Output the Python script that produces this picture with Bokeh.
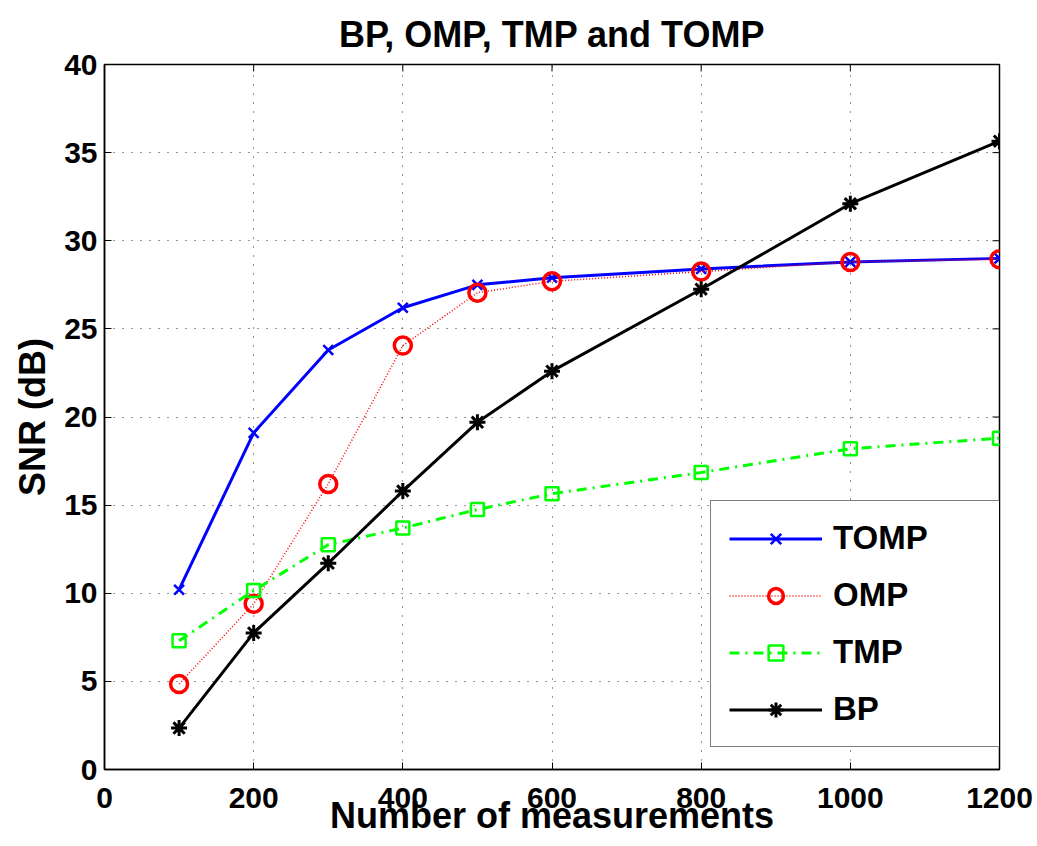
import math
from bokeh.plotting import figure
from bokeh.models import FixedTicker, Legend, LegendItem, Range1d
from bokeh.embed import file_html
from bokeh.resources import INLINE

# ---- data ----
measurements = [100, 200, 300, 400, 500, 600, 800, 1000, 1200]
snr_tomp = [10.2, 19.1, 23.8, 26.2, 27.5, 27.9, 28.4, 28.8, 29.0]
snr_omp = [4.85, 9.4, 16.2, 24.05, 27.05, 27.7, 28.25, 28.8, 28.95]
snr_tmp = [7.3, 10.15, 12.75, 13.7, 14.75, 15.65, 16.85, 18.2, 18.8]
snr_bp = [2.35, 7.75, 11.7, 15.8, 19.7, 22.6, 27.25, 32.1, 35.65]
x_ticks = [0, 200, 400, 600, 800, 1000, 1200]
y_ticks = [0, 5, 10, 15, 20, 25, 30, 35, 40]
x_min, x_max = 0, 1200
y_min, y_max = 0, 40

FONT = "Liberation Sans"

p = figure(width=1033, height=838, frame_width=895, frame_height=705,
           x_range=Range1d(x_min, x_max), y_range=Range1d(y_min, y_max),
           output_backend="svg", toolbar_location=None,
           min_border_left=104, min_border_top=64, min_border_right=34,
           min_border_bottom=69,
           title="BP, OMP, TMP and TOMP")

p.title.text_font = FONT
p.title.text_font_size = "36px"
p.title.text_font_style = "bold"
p.title.text_color = "black"
p.title.align = "center"
p.title.standoff = 20

p.outline_line_color = "black"
p.outline_line_width = 1.5
p.background_fill_color = "white"

for ax in p.xaxis + p.yaxis:
    ax.major_label_text_font = FONT
    ax.major_label_text_font_size = "30px"
    ax.major_label_text_font_style = "bold"
    ax.major_label_text_color = "black"
    ax.axis_label_text_font = FONT
    ax.axis_label_text_font_size = "36px"
    ax.axis_label_text_font_style = "bold"
    ax.axis_label_text_color = "black"
    ax.major_tick_in = 7
    ax.major_tick_out = 0
    ax.minor_tick_in = 0
    ax.minor_tick_out = 0
    ax.axis_line_color = "black"
    ax.axis_line_width = 1.5
    ax.major_tick_line_width = 1

p.xaxis.ticker = FixedTicker(ticks=x_ticks)
p.yaxis.ticker = FixedTicker(ticks=y_ticks)
p.xaxis.axis_label = "Number of measurements"
p.yaxis.axis_label = "SNR (dB)"
p.xaxis.major_label_standoff = 18
p.xaxis.axis_label_standoff = -16
p.yaxis.major_label_standoff = 7
p.yaxis.axis_label_standoff = 8

p.xgrid.ticker = FixedTicker(ticks=x_ticks)
p.ygrid.ticker = FixedTicker(ticks=y_ticks)
for g in (p.xgrid, p.ygrid):
    g.grid_line_color = "#333333"
    g.grid_line_dash = "1 8"
    g.grid_line_width = 1

# inward ticks on the top and right frame edges (clipped to the frame)
p.scatter([x_max] * len(y_ticks), y_ticks, marker="dash", size=14,
          line_color="black", line_width=1)
p.scatter(x_ticks, [y_max] * len(x_ticks), marker="dash", size=14, angle=math.pi / 2,
          line_color="black", line_width=1)

# TOMP
l1 = p.line(measurements, snr_tomp, line_color="#0000FF", line_width=3)
m1 = p.scatter(measurements, snr_tomp, marker="x", size=14, line_color="#0000FF", line_width=2.5)
# OMP
l2 = p.line(measurements, snr_omp, line_color="#FF0000", line_width=1.5, line_dash="1 2")
m2 = p.scatter(measurements, snr_omp, marker="circle", size=17, line_color="#FF0000",
               fill_color=None, line_width=3.5)
# TMP
l3 = p.line(measurements, snr_tmp, line_color="#00FF00", line_width=3, line_dash="10 6 2 6")
m3 = p.scatter(measurements, snr_tmp, marker="square", size=13, line_color="#00FF00",
               fill_color=None, line_width=2.5)
# BP
l4 = p.line(measurements, snr_bp, line_color="black", line_width=3)
m4 = p.scatter(measurements, snr_bp, marker="asterisk", size=16, line_color="black", line_width=3)

legend = Legend(items=[
    LegendItem(label="TOMP", renderers=[l1, m1]),
    LegendItem(label="OMP", renderers=[l2, m2]),
    LegendItem(label="TMP", renderers=[l3, m3]),
    LegendItem(label="BP", renderers=[l4, m4]),
], location=(606, 22))
legend.label_text_font = FONT
legend.label_text_font_size = "33px"
legend.label_text_font_style = "bold"
legend.label_text_color = "black"
legend.glyph_width = 93
legend.glyph_height = 37
legend.label_height = 37
legend.label_width = 149
legend.label_standoff = 11
legend.padding = 18
legend.spacing = 19
legend.margin = 0
legend.border_line_color = "black"
legend.border_line_width = 1.5
legend.background_fill_color = "white"
legend.background_fill_alpha = 1.0
p.add_layout(legend, "center")

open("out.html", "w").write(file_html(p, INLINE))
